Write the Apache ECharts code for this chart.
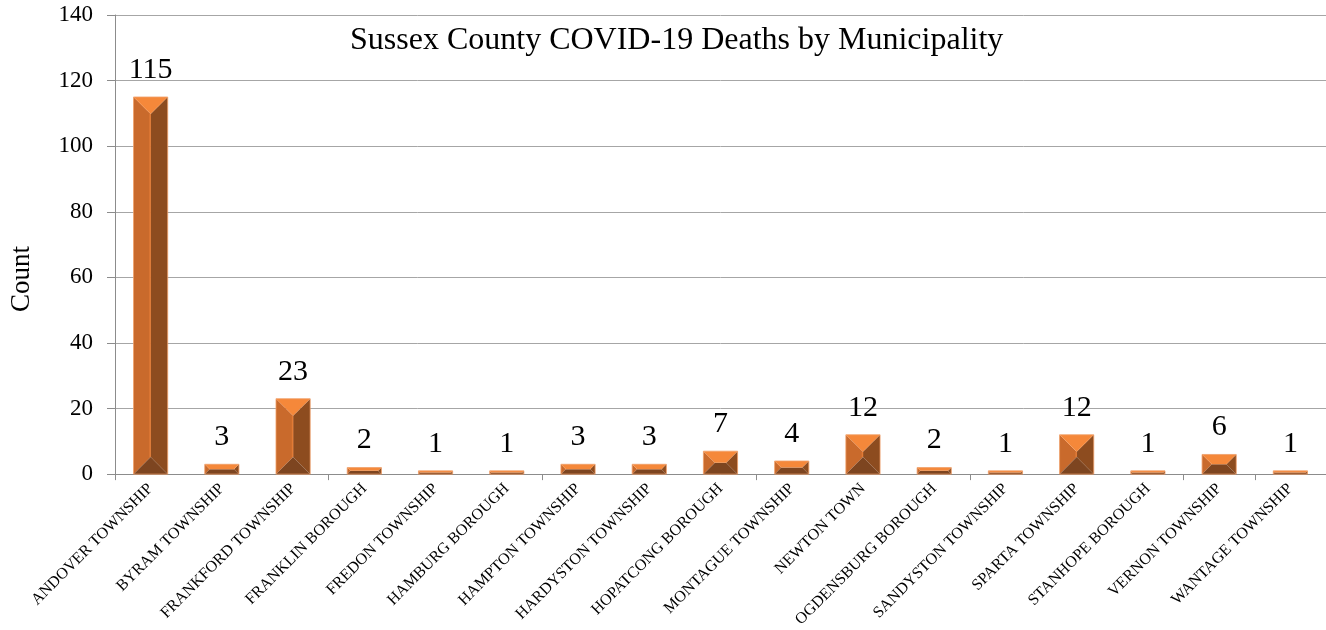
<!DOCTYPE html>
<html>
<head>
<meta charset="utf-8">
<script src="https://cdn.jsdelivr.net/npm/echarts@6/dist/echarts.min.js"></script>
<style>
  html, body { margin: 0; padding: 0; background: #fff; }
  #chart { width: 1326px; height: 630px; }
</style>
</head>
<body>
<div id="chart"></div>
<script>
// municipalities and death counts
const municipalities = [
  'ANDOVER TOWNSHIP', 'BYRAM TOWNSHIP', 'FRANKFORD TOWNSHIP', 'FRANKLIN BOROUGH',
  'FREDON TOWNSHIP', 'HAMBURG BOROUGH', 'HAMPTON TOWNSHIP', 'HARDYSTON TOWNSHIP',
  'HOPATCONG BOROUGH', 'MONTAGUE TOWNSHIP', 'NEWTON TOWN', 'OGDENSBURG BOROUGH',
  'SANDYSTON TOWNSHIP', 'SPARTA TOWNSHIP', 'STANHOPE BOROUGH', 'VERNON TOWNSHIP',
  'WANTAGE TOWNSHIP'
];
const deaths = [115, 3, 23, 2, 1, 1, 3, 3, 7, 4, 12, 2, 1, 12, 1, 6, 1];
const yTicks = [0, 20, 40, 60, 80, 100, 120, 140];

const serif = "'Liberation Serif', 'Times New Roman', serif";

const myChart = echarts.init(document.getElementById('chart'));

// pyramid-bevel bar, like the excel one
function renderBevelBar(params, api) {
  const idx = api.value(0);
  const val = api.value(1);
  const topPt = api.coord([idx, val]);
  const basePt = api.coord([idx, 0]);
  const w = api.size([1, 0])[0] * 0.48;
  const x0 = topPt[0] - w / 2, x1 = topPt[0] + w / 2;
  const yt = topPt[1], yb = basePt[1];
  const h = yb - yt;
  const d = Math.min(w, h) / 2;
  const ix0 = x0 + d, ix1 = x1 - d, iyt = yt + d, iyb = yb - d;
  const poly = (pts, color) => ({
    type: 'polygon',
    shape: { points: pts },
    style: { fill: color }
  });
  const children = [
    poly([[x0, yt], [x0, yb], [ix0, iyb], [ix0, iyt]], '#C96A2C'),
    poly([[x1, yt], [x1, yb], [ix1, iyb], [ix1, iyt]], '#8D4C1F'),
    poly([[x0, yb], [x1, yb], [ix1, iyb], [ix0, iyb]], '#7D4520'),
    poly([[x0, yt], [x1, yt], [ix1, iyt], [ix0, iyt]], '#F5883A'),
    {
      type: 'rect',
      shape: { x: x0, y: yt, width: w, height: h },
      style: { fill: null, stroke: '#F0A06A', lineWidth: 0.8 }
    }
  ];
  if (iyb - iyt > 2) {
    children.push({
      type: 'line',
      shape: { x1: topPt[0] - 0.5, y1: iyt, x2: topPt[0] - 0.5, y2: iyb },
      style: { stroke: '#E27B36', lineWidth: 1.5 }
    });
  }
  children.push({
    type: 'text',
    style: {
      text: String(val),
      x: topPt[0],
      y: yt - 27,
      align: 'center',
      verticalAlign: 'middle',
      font: '30px ' + serif,
      fill: '#000'
    }
  });
  return { type: 'group', children: children };
}

const option = {
  animation: false,
  title: {
    text: 'Sussex County COVID-19 Deaths by Municipality',
    left: 345,
    top: 20,
    textStyle: { fontFamily: serif, fontSize: 32, fontWeight: 'normal', color: '#000' }
  },
  grid: { left: 115, right: 0, top: 15, bottom: 155 },
  xAxis: {
    type: 'category',
    data: municipalities,
    axisLine: { lineStyle: { color: '#8C8C8C', width: 1 } },
    axisTick: { show: true, interval: 2, length: 6, lineStyle: { color: '#8C8C8C' } },
    axisLabel: {
      interval: 0,
      rotate: 45,
      margin: 12,
      fontFamily: serif,
      fontSize: 16,
      color: '#000'
    }
  },
  yAxis: {
    type: 'value',
    min: yTicks[0],
    max: yTicks[yTicks.length - 1],
    interval: yTicks[1] - yTicks[0],
    axisLine: { show: true, lineStyle: { color: '#8C8C8C' } },
    axisTick: { show: true, length: 8, lineStyle: { color: '#8C8C8C' } },
    splitLine: { lineStyle: { color: '#A6A6A6' } },
    axisLabel: { margin: 22, fontFamily: serif, fontSize: 23, color: '#000' }
  },
  graphic: [{
    type: 'text',
    x: 22,
    y: 279,
    rotation: Math.PI / 2,
    style: {
      text: 'Count',
      align: 'center',
      verticalAlign: 'middle',
      font: '27px ' + serif,
      fill: '#000'
    }
  }],
  series: [{
    type: 'custom',
    renderItem: renderBevelBar,
    encode: { x: 0, y: 1 },
    data: deaths.map((v, i) => [i, v])
  }]
};
myChart.setOption(option);
</script>
</body>
</html>
